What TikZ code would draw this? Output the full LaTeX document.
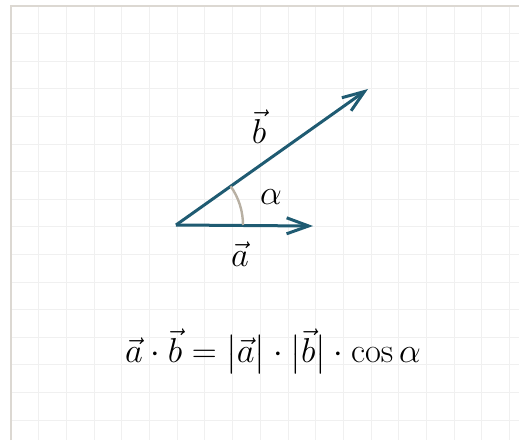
\documentclass[tikz,border=0pt]{standalone}
\usepackage{amsmath,amssymb}
\usepackage{xcolor}
\usepackage{tikz}
\usetikzlibrary{arrows.meta}

\definecolor{vecblue}{HTML}{1F5B72}
\definecolor{arcgray}{HTML}{B8B0A3}
\definecolor{gridgray}{HTML}{F0F0F0}
\definecolor{framegray}{HTML}{DCD8D2}

\begin{document}
\begin{tikzpicture}[
  x=0.5pt, y=-0.5pt,
  vec/.style={-{Straight Barb[length=11pt, width=8pt]}, line width=1.5pt, color=vecblue},
  anglearc/.style={line width=1.2pt, color=arcgray},
  lbl/.style={font=\fontsize{16pt}{19pt}\selectfont, inner sep=0pt},
  formula/.style={font=\fontsize{16pt}{19pt}\selectfont, inner sep=0pt}
]
\useasboundingbox (0,0) rectangle (519,440);
\clip (0,0) rectangle (519,440);

% paper grid
\foreach \k in {1,...,18}
  \draw[gridgray, line width=0.5pt] (11+27.7*\k,6) -- (11+27.7*\k,440);
\foreach \k in {1,...,16}
  \draw[gridgray, line width=0.5pt] (11,6+27.6*\k) -- (519,6+27.6*\k);
\draw[framegray, line width=1pt] (11,440) -- (11,6) -- (519,6);

\coordinate (origin) at (176,225);
\coordinate (tipa) at (313,226);
\coordinate (tipb) at (368,89);

\draw[vec] (origin) -- (tipa);
\draw[vec] (origin) -- (tipb);
\draw[anglearc] (origin) ++(67,0) arc[start angle=0, end angle=-35.3, radius=67];

\node[lbl] at (259,127) (labelb) {$\vec{b}$};
\node[lbl] at (271,197) (labelalpha) {$\alpha$};
\node[lbl] at (240,254) (labela) {$\vec{a}$};

\node[formula] at (273,352) (dotprod)
  {$\vec{a}\cdot\vec{b} = \bigl|\vec{a}\bigr|\cdot\bigl|\vec{b}\bigr|\cdot\cos\alpha$};
\end{tikzpicture}
\end{document}
